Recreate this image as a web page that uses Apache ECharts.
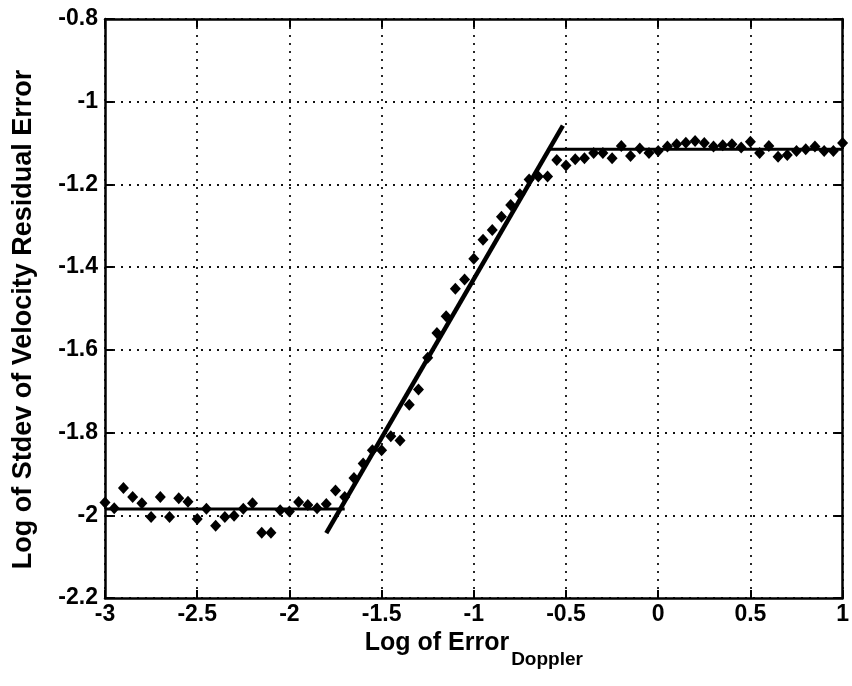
<!DOCTYPE html>
<html>
<head>
<meta charset="utf-8">
<script src="https://cdn.jsdelivr.net/npm/echarts@6/dist/echarts.min.js"></script>
<style>
  html, body { margin: 0; padding: 0; background: #fff; }
  #chart { width: 852px; height: 686px; }
</style>
</head>
<body>
<div id="chart"></div>
<script>
// Measured log error (x) and log stdev of velocity residual error (y)
const logError = [
  -3.00, -2.95, -2.90, -2.85, -2.80, -2.75, -2.70, -2.65, -2.60, -2.55,
  -2.50, -2.45, -2.40, -2.35, -2.30, -2.25, -2.20, -2.15, -2.10, -2.05,
  -2.00, -1.95, -1.90, -1.85, -1.80, -1.75, -1.70, -1.65, -1.60, -1.55,
  -1.50, -1.45, -1.40, -1.35, -1.30, -1.25, -1.20, -1.15, -1.10, -1.05,
  -1.00, -0.95, -0.90, -0.85, -0.80, -0.75, -0.70, -0.65, -0.60, -0.55,
  -0.50, -0.45, -0.40, -0.35, -0.30, -0.25, -0.20, -0.15, -0.10, -0.05,
   0.00,  0.05,  0.10,  0.15,  0.20,  0.25,  0.30,  0.35,  0.40,  0.45,
   0.50,  0.55,  0.60,  0.65,  0.70,  0.75,  0.80,  0.85,  0.90,  0.95,
   1.00
];
const logStdev = [
  -1.969, -1.983, -1.934, -1.956, -1.971, -2.004, -1.956, -2.004, -1.959, -1.967,
  -2.009, -1.984, -2.025, -2.004, -2.001, -1.984, -1.971, -2.042, -2.042, -1.988,
  -1.991, -1.968, -1.975, -1.983, -1.973, -1.940, -1.956, -1.910, -1.875, -1.843,
  -1.843, -1.809, -1.819, -1.733, -1.696, -1.619, -1.559, -1.519, -1.452, -1.430,
  -1.380, -1.334, -1.310, -1.278, -1.250, -1.224, -1.188, -1.181, -1.181, -1.141,
  -1.154, -1.139, -1.137, -1.124, -1.124, -1.137, -1.107, -1.131, -1.113, -1.124,
  -1.119, -1.108, -1.103, -1.099, -1.095, -1.100, -1.108, -1.105, -1.103, -1.111,
  -1.097, -1.124, -1.107, -1.133, -1.129, -1.119, -1.115, -1.108, -1.119, -1.119,
  -1.100
];

// Piecewise fit: low plateau, transition slope, high plateau
const fitLow   = [[-3.00, -1.985], [-1.70, -1.985]];
const fitSlope = [[-1.80, -2.043], [-0.517, -1.058]];
const fitHigh  = [[-0.59, -1.115], [1.00, -1.115]];

const xTicks = { min: -3, max: 1, interval: 0.5 };
const yTicks = { min: -2.2, max: -0.8, interval: 0.2 };

const points = logError.map((x, i) => [x, logStdev[i]]);

const FONT = '"Liberation Sans", Arial, Helvetica, sans-serif';
const labelStyle = { color: '#000', fontFamily: FONT, fontWeight: 'bold', fontSize: 23 };
const fmt = v => String(Math.round(v * 10) / 10);

const frameAxis = {
  axisLine: { show: true, onZero: false, lineStyle: { color: '#000', width: 2.5 } },
  axisTick: { show: true, inside: true, length: 8, lineStyle: { color: '#000', width: 2 } },
  splitLine: { show: false }
};
const gridDots = { show: true, lineStyle: { color: '#111', width: 1.8, type: [2, 6] } };

const chart = echarts.init(document.getElementById('chart'), null, { renderer: 'canvas' });
chart.setOption({
  animation: false,
  backgroundColor: '#fff',
  grid: { left: 105, right: 8, top: 19, bottom: 88, containLabel: false },
  xAxis: [
    Object.assign({}, frameAxis, {
      type: 'value', position: 'bottom',
      min: xTicks.min, max: xTicks.max, interval: xTicks.interval,
      axisLabel: Object.assign({}, labelStyle, { margin: 5, formatter: fmt }),
      splitLine: gridDots,
      name: '{a|Log of Error}{b|Doppler}',
      nameLocation: 'middle', nameGap: 31,
      nameTextStyle: {
        rich: {
          a: { fontFamily: FONT, fontWeight: 'bold', fontSize: 25, color: '#000', verticalAlign: 'top', lineHeight: 27 },
          b: { fontFamily: FONT, fontWeight: 'bold', fontSize: 19, color: '#000', verticalAlign: 'top', padding: [19, 0, 0, 2], lineHeight: 27 }
        }
      }
    }),
    Object.assign({}, frameAxis, {
      type: 'value', position: 'top',
      min: xTicks.min, max: xTicks.max, interval: xTicks.interval,
      axisLabel: { show: false }
    })
  ],
  yAxis: [
    Object.assign({}, frameAxis, {
      type: 'value', position: 'left',
      min: yTicks.min, max: yTicks.max, interval: yTicks.interval,
      axisLabel: Object.assign({}, labelStyle, { margin: 7, formatter: fmt }),
      splitLine: gridDots,
      name: 'Log of Stdev of Velocity Residual Error',
      nameLocation: 'middle', nameGap: 68,
      nameTextStyle: {
        fontFamily: FONT, fontWeight: 'bold', fontSize: 27, color: '#000',
        padding: [0, 22, 0, 0]
      }
    }),
    Object.assign({}, frameAxis, {
      type: 'value', position: 'right',
      min: yTicks.min, max: yTicks.max, interval: yTicks.interval,
      axisLabel: { show: false }
    })
  ],
  series: [
    {
      type: 'line', data: fitLow, symbol: 'none',
      lineStyle: { color: '#000', width: 3 }, z: 3
    },
    {
      type: 'line', data: fitSlope, symbol: 'none',
      lineStyle: { color: '#000', width: 4.5 }, z: 3
    },
    {
      type: 'line', data: fitHigh, symbol: 'none',
      lineStyle: { color: '#000', width: 3 }, z: 3
    },
    {
      type: 'scatter', data: points, symbol: 'diamond', symbolSize: [11, 12],
      itemStyle: { color: '#000', opacity: 1 }, z: 4
    }
  ]
});
</script>
</body>
</html>
